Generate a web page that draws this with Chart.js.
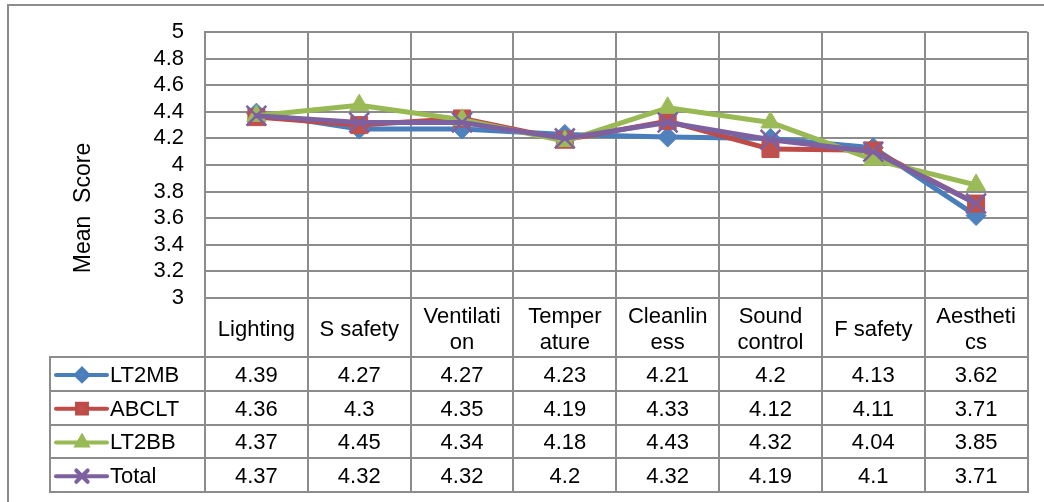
<!DOCTYPE html>
<html>
<head>
<meta charset="utf-8">
<script src="https://cdn.jsdelivr.net/npm/chart.js@4.4.1/dist/chart.umd.min.js"></script>
<style>
  html, body { margin: 0; padding: 0; background: #fff; }
  #wrap { width: 1044px; height: 502px; }
</style>
</head>
<body>
<div id="wrap"><canvas id="chart" width="1044" height="502"></canvas></div>
<script>
// categories (two-line labels are arrays, as wrapped in the original)
const categories = ['Lighting', 'S safety', ['Ventilati', 'on'], ['Temper', 'ature'], ['Cleanlin', 'ess'], ['Sound', 'control'], 'F safety', ['Aestheti', 'cs']];
const seriesNames = ['LT2MB', 'ABCLT', 'LT2BB', 'Total'];
const lt2mb = [4.39, 4.27, 4.27, 4.23, 4.21, 4.2, 4.13, 3.62];
const abclt = [4.36, 4.3, 4.35, 4.19, 4.33, 4.12, 4.11, 3.71];
const lt2bb = [4.37, 4.45, 4.34, 4.18, 4.43, 4.32, 4.04, 3.85];
const total = [4.37, 4.32, 4.32, 4.2, 4.32, 4.19, 4.1, 3.71];
const yMin = 3, yMax = 5, yStep = 0.2;
const yTitle = 'Mean  Score';

const FONT = '"Liberation Sans", Arial, sans-serif';
const GRID = '#8c8c8c';

const styles = [
  { line: '#4a7ebb', fill: '#4f81bd', shape: 'rectRot', r: 10, legendR: 6 },
  { line: '#be4b48', fill: '#c0504d', shape: 'rect', r: 12, legendR: 7 },
  { line: '#98b954', fill: '#9bbb59', shape: 'triangle', r: 11, legendR: 6 },
  { line: '#7d60a0', fill: '#8064a2', shape: 'crossRot', r: 14, legendR: 8 }
];
const allValues = [lt2mb, abclt, lt2bb, total];

const datasets = allValues.map((vals, i) => ({
  label: seriesNames[i],
  data: vals,
  borderColor: styles[i].line,
  borderWidth: 5,
  borderJoinStyle: 'round',
  borderCapStyle: 'round',
  pointStyle: styles[i].shape,
  pointRadius: styles[i].r,
  pointBackgroundColor: styles[i].fill,
  pointBorderColor: styles[i].shape === 'crossRot' ? styles[i].line : styles[i].fill,
  pointBorderWidth: styles[i].shape === 'crossRot' ? 2.5 : 1,
  tension: 0,
  order: 3 - i
}));

// draws the frame, the rotated axis title and the data table under the plot
const tablePlugin = {
  id: 'tablePlugin',
  afterDraw(chart) {
    const ctx = chart.ctx;
    const xs = chart.scales.x;
    const area = chart.chartArea;
    const n = categories.length;
    const centers = categories.map((c, i) => xs.getPixelForValue(i));
    const half = (centers[1] - centers[0]) / 2;
    const edges = centers.map(c => c - half).concat([centers[n - 1] + half]);

    const headTop = area.bottom;
    const headBottom = 357;
    const rowH = (492 - headBottom) / seriesNames.length;
    const tableLeft = 50;

    ctx.save();
    ctx.strokeStyle = GRID;
    ctx.lineWidth = 2;

    // outer frame
    ctx.beginPath();
    ctx.moveTo(8, 502); ctx.lineTo(8, 5); ctx.lineTo(1044, 5);
    ctx.stroke();

    // table lines
    ctx.beginPath();
    edges.forEach(x => {
      const px = Math.round(x);
      ctx.moveTo(px, headTop); ctx.lineTo(px, 492);
    });
    ctx.moveTo(tableLeft, headBottom); ctx.lineTo(tableLeft, 492);
    for (let r = 0; r <= seriesNames.length; r++) {
      const y = Math.round(headBottom + r * rowH);
      ctx.moveTo(tableLeft - 1, y); ctx.lineTo(Math.round(edges[n]) + 1, y);
    }
    ctx.stroke();

    // header labels
    ctx.fillStyle = '#000';
    ctx.font = '22px ' + FONT;
    ctx.textAlign = 'center';
    ctx.textBaseline = 'middle';
    const headMid = (headTop + headBottom) / 2 + 2;
    categories.forEach((c, i) => {
      const lines = Array.isArray(c) ? c : [c];
      lines.forEach((t, k) => {
        const y = headMid + (k - (lines.length - 1) / 2) * 26;
        ctx.fillText(t, centers[i], y);
      });
    });

    // data rows
    allValues.forEach((vals, r) => {
      const yMid = headBottom + (r + 0.5) * rowH + 2;
      vals.forEach((v, i) => ctx.fillText(String(v), centers[i], yMid));

      // legend key
      const st = styles[r];
      ctx.strokeStyle = st.line;
      ctx.lineWidth = 4;
      ctx.lineCap = 'round';
      ctx.beginPath();
      ctx.moveTo(56, yMid - 1); ctx.lineTo(107, yMid - 1);
      ctx.stroke();
      const opts = {
        pointStyle: st.shape, radius: st.legendR, rotation: 0,
        backgroundColor: st.fill,
        borderColor: st.shape === 'crossRot' ? st.line : st.fill,
        borderWidth: st.shape === 'crossRot' ? 2 : 1
      };
      ctx.fillStyle = st.fill;
      Chart.helpers.drawPoint(ctx, opts, 82, yMid - 1);

      ctx.fillStyle = '#000';
      ctx.textAlign = 'left';
      ctx.fillText(seriesNames[r], 110, yMid);
      ctx.textAlign = 'center';
    });

    // y axis title
    ctx.save();
    ctx.translate(84, 208);
    ctx.rotate(-Math.PI / 2);
    ctx.font = '23px ' + FONT;
    ctx.fillStyle = '#000';
    ctx.fillText(yTitle, 0, 0);
    ctx.restore();

    ctx.restore();
  }
};

new Chart(document.getElementById('chart'), {
  type: 'line',
  data: { labels: categories, datasets: datasets },
  options: {
    responsive: false,
    animation: false,
    devicePixelRatio: 1,
    layout: { padding: { left: 0, top: 32, right: 15, bottom: 204 } },
    plugins: { legend: { display: false }, tooltip: { enabled: false } },
    scales: {
      x: {
        offset: true,
        grid: { offset: true, color: GRID, lineWidth: 2, drawTicks: false },
        border: { color: GRID, width: 2 },
        ticks: { display: false },
        afterFit: s => { s.height = 0; }
      },
      y: {
        min: yMin,
        max: yMax,
        grid: { color: GRID, lineWidth: 2, drawTicks: false },
        border: { color: GRID, width: 2 },
        ticks: {
          stepSize: yStep,
          autoSkip: false,
          padding: 21,
          color: '#000',
          font: { family: FONT, size: 22, lineHeight: 1 },
          callback: v => String(Math.round(v * 10) / 10)
        },
        afterFit: s => { s.width = 205; }
      }
    }
  },
  plugins: [tablePlugin]
});
</script>
</body>
</html>
